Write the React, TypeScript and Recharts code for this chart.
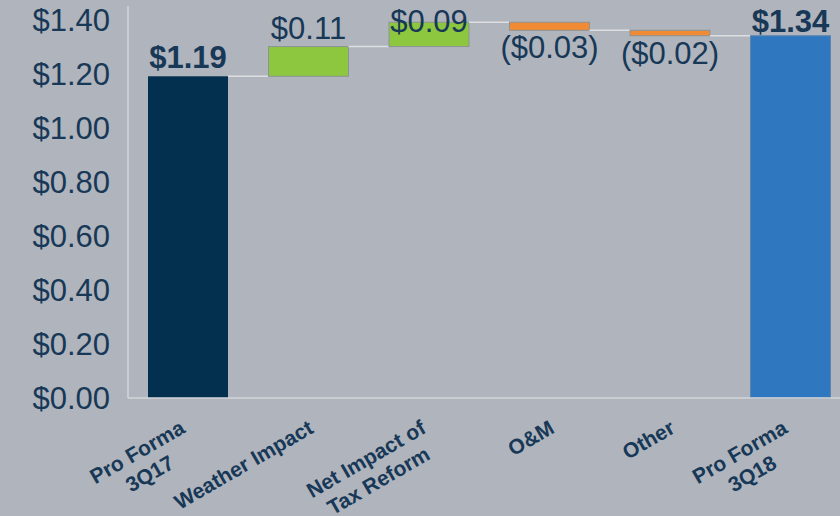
import React from 'react';
import { BarChart, Bar, XAxis, YAxis, LabelList } from 'recharts';

// Bridge from 3Q17 to 3Q18 pro forma EPS
const categories = ['Pro Forma\n3Q17', 'Weather Impact', 'Net Impact of\nTax Reform', 'O&M', 'Other', 'Pro Forma\n3Q18'];
const kinds = ['total', 'up', 'up', 'down', 'down', 'total'];
const amounts = [1.19, 0.11, 0.09, -0.03, -0.02, 1.34];
const labels = ['$1.19', '$0.11', '$0.09', '($0.03)', '($0.02)', '$1.34'];
const yTicks = [0, 0.2, 0.4, 0.6, 0.8, 1.0, 1.2, 1.4];

const FONT = '"Liberation Sans", Arial, sans-serif';
const TEXT = '#173857';
const BG = '#b0b4bc';
const BAR_SIZE = 80;
const BAND_GAP = 40.5;
const CAT_FONT = 21;

const colors: Record<string, string> = {
  total0: '#04304f',
  total5: '#2f78c0',
  up: '#8dc63f',
  down: '#f08b33',
};

// build the floating base for each step
let running = 0;
const data = categories.map((name, i) => {
  const kind = kinds[i];
  const amt = amounts[i];
  let base = 0;
  let value = amt;
  if (kind === 'total') {
    running = amt;
  } else if (amt >= 0) {
    base = running;
    running += amt;
  } else {
    running += amt;
    base = running;
    value = -amt;
  }
  return { name, base, value, kind, label: labels[i], idx: i };
});

const measure = (text: string, font: string) => {
  const ctx = document.createElement('canvas').getContext('2d');
  if (!ctx) return text.length * 11;
  ctx.font = font;
  return ctx.measureText(text).width;
};

const StepBar = (props: any) => {
  const { x, y, width, height, payload } = props;
  const fill = payload.kind === 'total' ? colors['total' + payload.idx] : colors[payload.kind];
  const stroke = payload.kind === 'total' ? (payload.idx === 0 ? 'none' : '#5d86ad') : '#8e9394';
  let level = y;
  if (payload.kind === 'up') level = y + height;
  return (
    <g>
      {payload.idx > 0 && (
        <line x1={x - BAND_GAP} x2={x} y1={level} y2={level} stroke="#dcdee2" strokeWidth={1.5} />
      )}
      <rect x={x} y={y} width={width} height={height} fill={fill} stroke={stroke} strokeWidth={1} />
    </g>
  );
};

const StepLabel = (props: any) => {
  const { x, y, width, height, index } = props;
  const d = data[index];
  const cx = x + width / 2;
  let ty = Math.max(y - 8, 32);
  if (d.kind === 'down') ty = y + height + 28;
  return (
    <text
      x={cx}
      y={ty}
      textAnchor="middle"
      fill={TEXT}
      fontFamily={FONT}
      fontSize={31}
      fontWeight={d.kind === 'total' ? 'bold' : 'normal'}
    >
      {d.label}
    </text>
  );
};

const CategoryTick = (props: any) => {
  const { x, y, payload } = props;
  const lines = String(payload.value).split('\n');
  const multi = lines.length > 1;
  const font = `bold ${CAT_FONT}px ${FONT}`;
  const w = measure(lines[0], font);
  const dx = multi ? -2 : 6;
  return (
    <g transform={`translate(${x + dx},${y + 34}) rotate(-30)`}>
      {lines.map((ln, i) => (
        <text
          key={i}
          x={multi ? -w / 2 : 0}
          y={i * 25}
          textAnchor={multi ? 'middle' : 'end'}
          fill={TEXT}
          fontFamily={FONT}
          fontSize={CAT_FONT}
          fontWeight="bold"
        >
          {ln}
        </text>
      ))}
    </g>
  );
};

export default function App() {
  return (
    <div style={{ position: 'absolute', left: 0, top: 0, width: 840, height: 516, overflow: 'hidden', background: BG }}>
      <BarChart
        width={851}
        height={516}
        data={data}
        margin={{ top: 6, right: 0, left: 0, bottom: 0 }}
        barSize={BAR_SIZE}
      >
        <XAxis
          dataKey="name"
          interval={0}
          height={118}
          tickLine={false}
          tickSize={0}
          tickMargin={0}
          axisLine={{ stroke: '#d3d6da', strokeWidth: 1.5 }}
          tick={<CategoryTick />}
        />
        <YAxis
          width={128}
          domain={[0, 1.45]}
          ticks={yTicks}
          tickLine={false}
          tickSize={0}
          tickMargin={18}
          axisLine={{ stroke: '#d3d6da', strokeWidth: 1.5 }}
          tickFormatter={(v: number) => `$${v.toFixed(2)}`}
          tick={{ fill: TEXT, fontSize: 31, fontFamily: FONT }}
        />
        <Bar dataKey="base" stackId="a" fill="transparent" isAnimationActive={false} />
        <Bar dataKey="value" stackId="a" shape={<StepBar />} isAnimationActive={false}>
          <LabelList dataKey="value" content={<StepLabel />} />
        </Bar>
      </BarChart>
    </div>
  );
}
